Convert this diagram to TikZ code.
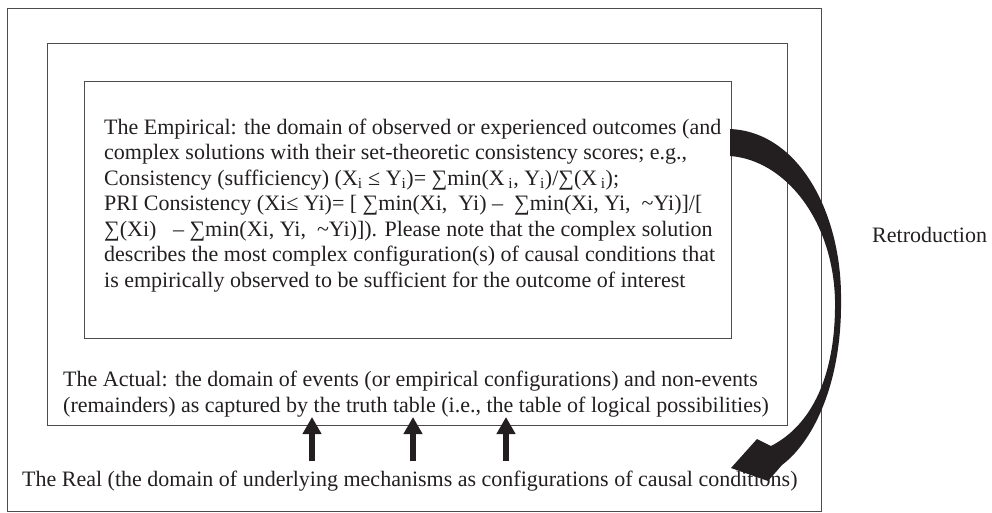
\documentclass[tikz,border=0pt]{standalone}
\usepackage{fontspec}
\setmainfont{Liberation Serif}
\usetikzlibrary{arrows.meta}
\definecolor{ink}{HTML}{231F20}
\begin{document}
\begin{tikzpicture}[x=1pt,y=-1pt,
  frame/.style={draw=black!70, line width=0.9pt},
  txt/.style={font=\fontsize{22}{25.5}\selectfont, inner sep=0pt, align=left, text=ink},
  uparrow/.style={draw=ink, line width=6pt, -{Triangle[width=18pt,length=17pt]}},
]
\useasboundingbox (0,0) rectangle (992,512);
% boxes
\draw[frame] (7,8) rectangle (821,511);
\draw[frame] (47,43) rectangle (787,425);
\draw[frame] (84,81) rectangle (731,338);
% texts (base anchor = baseline of the last line)
\node[txt, anchor=base west] (emp) at (104,287) {The Empirical: the domain of observed or experienced outcomes (and\\
complex solutions with their set-theoretic consistency scores; e.g.,\\
Consistency (sufficiency) (X\textsubscript{i} ≤ Y\textsubscript{i})= ∑min(X\,\textsubscript{i}, Y\textsubscript{i})/∑(X\,\textsubscript{i});\\
PRI Consistency (Xi≤ Yi)= [ ∑min(Xi,\ \ Yi) – \ ∑min(Xi, Yi,\ \ \textasciitilde Yi)]/[\\
∑(Xi)\ \ \ – ∑min(Xi, Yi,\ \ \textasciitilde Yi)]). Please note that the complex solution\\
describes the most complex configuration(s) of causal conditions that\\
is empirically observed to be sufficient for the outcome of interest};
\node[txt, anchor=base west] (act) at (63,412) {The Actual: the domain of events (or empirical configurations) and non-events\\
(remainders) as captured by the truth table (i.e., the table of logical possibilities)};
\node[txt, anchor=base west] (real) at (22,486) {The Real (the domain of underlying mechanisms as configurations of causal conditions)};
\node[txt, anchor=base west] (retro) at (872,242) {Retroduction};
% upward arrows
\coordinate (s1) at (312,461); \coordinate (t1) at (312,417);
\coordinate (s2) at (413,461); \coordinate (t2) at (413,417);
\coordinate (s3) at (506,461); \coordinate (t3) at (506,417);
\draw[uparrow] (s1) -- (t1);
\draw[uparrow] (s2) -- (t2);
\draw[uparrow] (s3) -- (t3);
% curved retroduction arrow
\fill[ink] (730,129) .. controls (800,132) and (842,215) .. (841,300)
  .. controls (842,380) and (815,440) .. (782,465)
  -- (768,481) -- (731,468) -- (757,439) -- (771,446)
  .. controls (812,425) and (836,375) .. (835,300)
  .. controls (833,220) and (785,160) .. (730,156) -- cycle;
\end{tikzpicture}
\end{document}
